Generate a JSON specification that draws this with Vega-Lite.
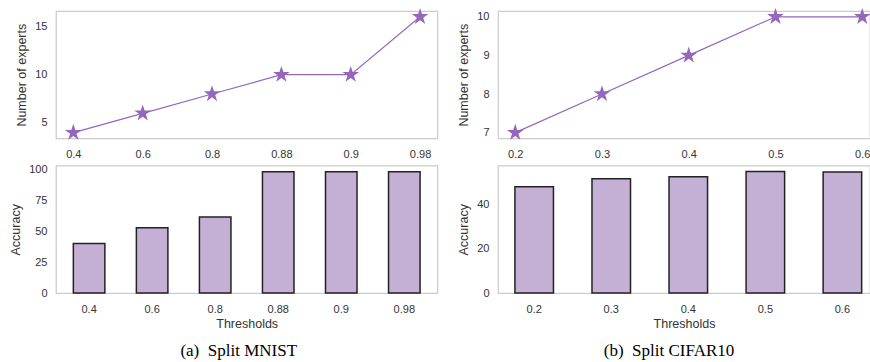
{
  "$schema": "https://vega.github.io/schema/vega-lite/v6.json",
  "padding": {"left": 9, "top": 7, "right": 0, "bottom": 0},
  "background": "white",
  "config": {
    "font": "Liberation Sans",
    "view": {"stroke": "#cccccc", "strokeWidth": 1.25},
    "axis": {"domain": false, "ticks": false, "grid": false, "labelFont": "Liberation Sans", "labelFontSize": 11, "labelColor": "#333333", "titleFont": "Liberation Sans", "titleFontSize": 12.5, "titleFontWeight": "normal", "titleColor": "#333333", "labelPadding": 9, "titlePadding": 6},
    "axisX": {"labelAngle": 0, "labelPadding": 10, "titlePadding": 3},
    "title": {"font": "Liberation Serif", "fontSize": 17, "fontWeight": "normal", "color": "#000000"}
  },
  "columns": 2,
  "spacing": {"row": 26.6, "column": 60},
  "bounds": "flush",
  "concat": [
    {
      "width": 381.4,
      "height": 127.4,
      "data": {"values": [
        {"threshold": "0.4", "experts": 4}, {"threshold": "0.6", "experts": 6}, {"threshold": "0.8", "experts": 8},
        {"threshold": "0.88", "experts": 10}, {"threshold": "0.9", "experts": 10}, {"threshold": "0.98", "experts": 16}
      ]},
      "mark": {"type": "line", "color": "#9467bd", "strokeWidth": 1.2, "point": {"shape": "M0,-1L0.2245,-0.309L0.951,-0.309L0.363,0.118L0.588,0.809L0,0.382L-0.588,0.809L-0.363,0.118L-0.951,-0.309L-0.2245,-0.309Z", "size": 310, "filled": true, "color": "#9467bd", "opacity": 1}},
      "encoding": {
        "x": {"field": "threshold", "type": "ordinal", "scale": {"type": "point", "padding": 0.25}, "axis": {"title": null}},
        "y": {"field": "experts", "type": "quantitative", "scale": {"domain": [3.4, 16.6], "nice": false, "zero": false}, "axis": {"title": "Number of experts", "values": [5, 10, 15]}}
      }
    },
    {
      "width": 372,
      "height": 127.4,
      "data": {"values": [
        {"threshold": "0.2", "experts": 7}, {"threshold": "0.3", "experts": 8}, {"threshold": "0.4", "experts": 9},
        {"threshold": "0.5", "experts": 10}, {"threshold": "0.6", "experts": 10}
      ]},
      "mark": {"type": "line", "color": "#9467bd", "strokeWidth": 1.2, "point": {"shape": "M0,-1L0.2245,-0.309L0.951,-0.309L0.363,0.118L0.588,0.809L0,0.382L-0.588,0.809L-0.363,0.118L-0.951,-0.309L-0.2245,-0.309Z", "size": 310, "filled": true, "color": "#9467bd", "opacity": 1}},
      "encoding": {
        "x": {"field": "threshold", "type": "ordinal", "scale": {"type": "point", "padding": 0.144, "align": 0.69}, "axis": {"title": null}},
        "y": {"field": "experts", "type": "quantitative", "scale": {"domain": [6.85, 10.15], "nice": false, "zero": false}, "axis": {"title": "Number of experts", "values": [7, 8, 9, 10]}}
      }
    },
    {
      "width": 381.4,
      "height": 127.4,
      "data": {"values": [
        {"threshold": "0.4", "accuracy": 40}, {"threshold": "0.6", "accuracy": 52.7}, {"threshold": "0.8", "accuracy": 61.3},
        {"threshold": "0.88", "accuracy": 98}, {"threshold": "0.9", "accuracy": 98}, {"threshold": "0.98", "accuracy": 98}
      ]},
      "title": {"text": "(a)\u00a0\u00a0Split MNIST", "orient": "bottom", "anchor": "middle", "frame": "group", "offset": 13, "dx": -8},
      "mark": {"type": "bar", "fill": "#c5b0d5", "stroke": "#222222", "strokeWidth": 1.5},
      "encoding": {
        "x": {"field": "threshold", "type": "ordinal", "scale": {"paddingInner": 0.5, "paddingOuter": 0.275}, "axis": {"title": "Thresholds"}},
        "y": {"field": "accuracy", "type": "quantitative", "scale": {"domain": [0, 102.9], "nice": false}, "axis": {"title": "Accuracy", "values": [0, 25, 50, 75, 100]}}
      }
    },
    {
      "width": 372,
      "height": 127.4,
      "data": {"values": [
        {"threshold": "0.2", "accuracy": 47.8}, {"threshold": "0.3", "accuracy": 51.4}, {"threshold": "0.4", "accuracy": 52.3},
        {"threshold": "0.5", "accuracy": 54.6}, {"threshold": "0.6", "accuracy": 54.4}
      ]},
      "title": {"text": "(b)\u00a0\u00a0Split CIFAR10", "orient": "bottom", "anchor": "middle", "frame": "group", "offset": 13, "dx": -15},
      "mark": {"type": "bar", "fill": "#c5b0d5", "stroke": "#222222", "strokeWidth": 1.5},
      "encoding": {
        "x": {"field": "threshold", "type": "ordinal", "scale": {"paddingInner": 0.5, "paddingOuter": 0.164, "align": 0.67}, "axis": {"title": "Thresholds"}},
        "y": {"field": "accuracy", "type": "quantitative", "scale": {"domain": [0, 57.3], "nice": false}, "axis": {"title": "Accuracy", "values": [0, 20, 40]}}
      }
    }
  ]
}
